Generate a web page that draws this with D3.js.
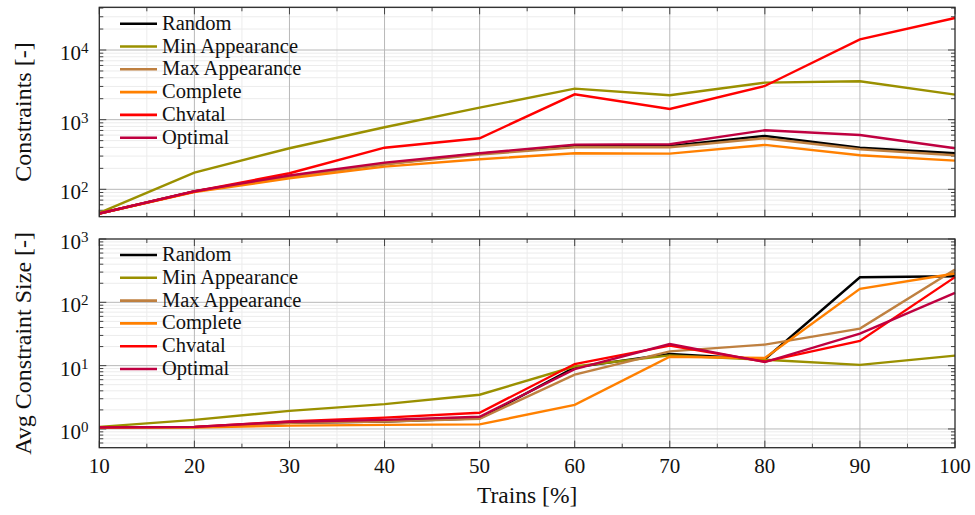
<!DOCTYPE html>
<html lang="en">
<head>
<meta charset="utf-8">
<title>Constraints vs trains</title>
<style type="text/css">
body { margin: 0; background: white; }
.grid-major { stroke: #b8b8b8; stroke-width: 1px; }
.grid-minor { stroke: #ececec; stroke-width: 1px; }
.tick { stroke: #444; stroke-width: 1px; }
.frame { fill: none; stroke: #2a2a2a; stroke-width: 1.3px; }
.series { fill: none; stroke-width: 2.4px; stroke-linejoin: miter; }
</style>
</head>
<body>
<svg width="975" height="515"></svg>
<script src="https://d3js.org/d3.v7.min.js"></script>
<script>
// ---- data ----
var trains = [10, 20, 30, 40, 50, 60, 70, 80, 90, 100];
var seriesNames = ["Random", "Min Appearance", "Max Appearance", "Complete", "Chvatal", "Optimal"];
var seriesColors = ["#000000", "#9a9000", "#bf8040", "#ff8000", "#ff0000", "#bf0040"];

// constraints [-]
var consRandom   = [45, 93, 155, 231, 325, 420, 420, 584, 396, 330];
var consMinApp   = [46, 174, 389, 778, 1486, 2787, 2239, 3397, 3556, 2285];
var consMaxApp   = [45, 93, 153, 228, 315, 402, 402, 541, 376, 308];
var consComplete = [45, 91, 144, 212, 270, 330, 325, 434, 308, 258];
var consChvatal  = [45, 93, 170, 396, 541, 2313, 1425, 3046, 14230, 28770];
var consOptimal  = [45, 94, 158, 242, 330, 438, 444, 705, 603, 388];

// avg constraint size [-]
var sizeRandom   = [1.06, 1.07, 1.25, 1.31, 1.47, 9.4, 15.3, 12.6, 249, 258];
var sizeMinApp   = [1.08, 1.39, 1.93, 2.47, 3.47, 9.7, 14.5, 12.4, 10.3, 14.4];
var sizeMaxApp   = [1.06, 1.07, 1.25, 1.31, 1.45, 7.2, 16.8, 21.5, 38.4, 329];
var sizeComplete = [1.06, 1.05, 1.13, 1.16, 1.18, 2.4, 13.8, 13.2, 163, 285];
var sizeChvatal  = [1.06, 1.08, 1.31, 1.51, 1.80, 10.6, 20.7, 11.6, 24.5, 250];
var sizeOptimal  = [1.06, 1.08, 1.30, 1.39, 1.56, 8.8, 21.9, 11.4, 32, 141];

var xTicks = [10, 20, 30, 40, 50, 60, 70, 80, 90, 100];
var xMinorTicks = [15, 25, 35, 45, 55, 65, 75, 85, 95];

var FONT = "Liberation Serif";
var svg = d3.select("svg"),
    left = 99.3, right = 955;

var x = d3.scaleLinear().domain([10, 100]).range([left, right]);

var panels = [
  { top: 7.3, bottom: 216.7, domain: [Math.pow(10, 1.607), Math.pow(10, 4.613)],
    decades: [2, 3, 4], label: "Constraints [-]", xLabels: false, legendY: 23.7,
    data: [consRandom, consMinApp, consMaxApp, consComplete, consChvatal, consOptimal] },
  { top: 239, bottom: 447.7, domain: [Math.pow(10, -0.296), Math.pow(10, 3.0)],
    decades: [0, 1, 2, 3], label: "Avg Constraint Size [-]", xLabels: true, legendY: 255,
    data: [sizeRandom, sizeMinApp, sizeMaxApp, sizeComplete, sizeChvatal, sizeOptimal] }
];

function minorLogTicks(domain) {
  var out = [];
  var lo = Math.floor(Math.log10(domain[0])), hi = Math.ceil(Math.log10(domain[1]));
  for (var e = lo; e <= hi; e++) {
    for (var m = 2; m <= 9; m++) {
      var v = m * Math.pow(10, e);
      if (v > domain[0] && v < domain[1]) out.push(v);
    }
  }
  return out;
}

panels.forEach(function (p) {
  var y = d3.scaleLog().domain(p.domain).range([p.bottom, p.top]);
  var g = svg.append("g");
  var yMinor = minorLogTicks(p.domain);
  var yMajor = p.decades.map(function (e) { return Math.pow(10, e); });

  // minor grid
  g.selectAll(null).data(xMinorTicks).enter().append("line")
    .attr("class", "grid-minor")
    .attr("x1", d => x(d)).attr("x2", d => x(d))
    .attr("y1", p.top).attr("y2", p.bottom);
  g.selectAll(null).data(yMinor).enter().append("line")
    .attr("class", "grid-minor")
    .attr("x1", left).attr("x2", right)
    .attr("y1", d => y(d)).attr("y2", d => y(d));
  // major grid
  g.selectAll(null).data(xTicks.slice(1, -1)).enter().append("line")
    .attr("class", "grid-major")
    .attr("x1", d => x(d)).attr("x2", d => x(d))
    .attr("y1", p.top).attr("y2", p.bottom);
  g.selectAll(null).data(yMajor.filter(v => y(v) > p.top + 1)).enter().append("line")
    .attr("class", "grid-major")
    .attr("x1", left).attr("x2", right)
    .attr("y1", d => y(d)).attr("y2", d => y(d));

  // ticks (inside, all four sides)
  var ticks = g.append("g");
  [[p.bottom, -1], [p.top, 1]].forEach(function (s) {
    ticks.selectAll(null).data(xTicks).enter().append("line").attr("class", "tick")
      .attr("x1", d => x(d)).attr("x2", d => x(d))
      .attr("y1", s[0]).attr("y2", s[0] + s[1] * 7);
    ticks.selectAll(null).data(xMinorTicks).enter().append("line").attr("class", "tick")
      .attr("x1", d => x(d)).attr("x2", d => x(d))
      .attr("y1", s[0]).attr("y2", s[0] + s[1] * 4);
  });
  [[left, 1], [right, -1]].forEach(function (s) {
    ticks.selectAll(null).data(yMajor).enter().append("line").attr("class", "tick")
      .attr("y1", d => y(d)).attr("y2", d => y(d))
      .attr("x1", s[0]).attr("x2", s[0] + s[1] * 7);
    ticks.selectAll(null).data(yMinor).enter().append("line").attr("class", "tick")
      .attr("y1", d => y(d)).attr("y2", d => y(d))
      .attr("x1", s[0]).attr("x2", s[0] + s[1] * 4);
  });

  // series
  var line = d3.line().x((d, i) => x(trains[i])).y(d => y(d));
  g.selectAll(null).data(p.data).enter().append("path")
    .attr("class", "series")
    .attr("stroke", (d, i) => seriesColors[i])
    .attr("d", line);

  // frame
  g.append("rect").attr("class", "frame")
    .attr("x", left).attr("y", p.top)
    .attr("width", right - left).attr("height", p.bottom - p.top);

  // y tick labels 10^e
  var yl = g.selectAll(null).data(p.decades).enter().append("text")
    .attr("x", 88.5).attr("y", d => y(Math.pow(10, d)) + 10)
    .attr("text-anchor", "end")
    .attr("font-family", FONT).attr("font-size", 21).attr("fill", "#111");
  yl.append("tspan").text("10");
  yl.append("tspan").attr("dy", -7).attr("font-size", 15).text(d => d);

  // y axis label
  g.append("text")
    .attr("transform", "translate(30.5," + ((p.top + p.bottom) / 2) + ") rotate(-90)")
    .attr("text-anchor", "middle")
    .attr("font-family", FONT).attr("font-size", 24).attr("fill", "#111")
    .text(p.label);

  // x tick labels
  if (p.xLabels) {
    g.selectAll(null).data(xTicks).enter().append("text")
      .attr("x", d => x(d)).attr("y", p.bottom + 25)
      .attr("text-anchor", "middle")
      .attr("font-family", FONT).attr("font-size", 21).attr("fill", "#111")
      .text(d => d);
  }

  // legend
  var lg = g.append("g");
  seriesNames.forEach(function (name, i) {
    var ly = p.legendY + i * 22.8;
    lg.append("line")
      .attr("x1", 120).attr("x2", 157).attr("y1", ly).attr("y2", ly)
      .attr("stroke", seriesColors[i]).attr("stroke-width", 2.6);
    lg.append("text")
      .attr("x", 162).attr("y", ly + 6)
      .attr("font-family", FONT).attr("font-size", 20.5).attr("fill", "#111")
      .text(name);
  });
});

svg.append("text")
  .attr("x", (left + right) / 2).attr("y", 503)
  .attr("text-anchor", "middle")
  .attr("font-family", FONT).attr("font-size", 23.5).attr("fill", "#111")
  .text("Trains [%]");
</script>
</body>
</html>
